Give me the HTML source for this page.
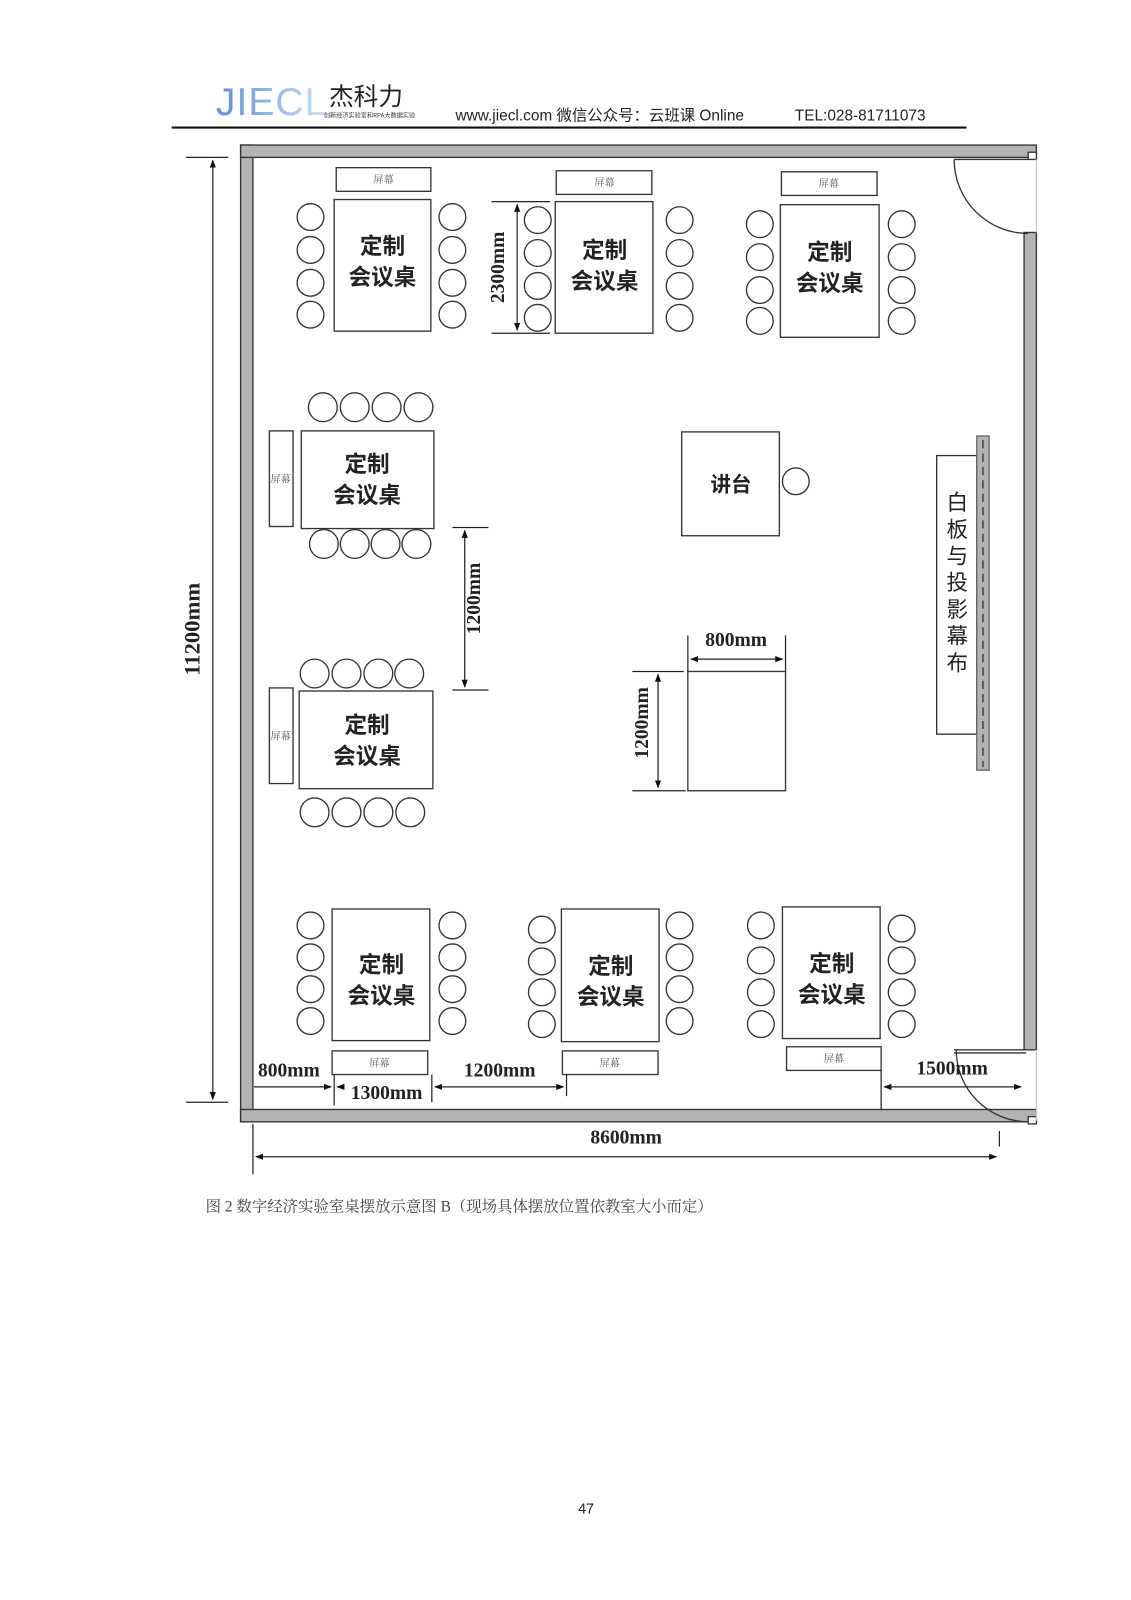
<!DOCTYPE html>
<html><head><meta charset="utf-8"><style>
html,body{margin:0;padding:0;background:#fff;}
svg{display:block;}
</style></head><body>
<svg width="1131" height="1600" viewBox="0 0 1100 1556" xmlns="http://www.w3.org/2000/svg">
<defs>
<linearGradient id="lg" x1="0" x2="1" y1="0" y2="0"><stop offset="0" stop-color="#5a8fd6"/><stop offset="1" stop-color="#cfe0f5"/></linearGradient>
<marker id="a" markerWidth="8" markerHeight="8" refX="7" refY="4" orient="auto-start-reverse" markerUnits="userSpaceOnUse"><path d="M0,1 L8,4 L0,7z" fill="#111"/></marker>
</defs>
<!-- header -->
<text x="210" y="112" font-family="Liberation Sans, sans-serif" font-size="38" fill="url(#lg)" letter-spacing="1">JIECL</text>
<text x="320" y="102" font-family="Liberation Sans, Noto Sans CJK SC, sans-serif" font-size="24" fill="#222">杰科力</text>
<text x="315" y="114" font-family="Noto Sans CJK SC, sans-serif" font-size="6" fill="#333">创新经济实验室和RPA大数据实验</text>
<text x="443" y="117" font-family="Liberation Sans, Noto Sans CJK SC, sans-serif" font-size="15" fill="#222">www.jiecl.com 微信公众号：云班课 Online</text>
<text x="773" y="117" font-family="Liberation Sans, sans-serif" font-size="15" fill="#222">TEL:028-81711073</text>
<line x1="167" y1="124" x2="940" y2="124" stroke="#111" stroke-width="2"/>

<g stroke="#333" stroke-width="1.3" fill="none">
<rect x="234" y="141" width="12" height="950" fill="#b3b3b3"/>
<rect x="234" y="141" width="774" height="12" fill="#b3b3b3"/>
<rect x="234" y="1079" width="774" height="12" fill="#b3b3b3"/>
<rect x="996" y="226" width="12" height="795" fill="#b3b3b3"/>
<rect x="1000" y="148" width="8" height="7" fill="#fff"/>
<rect x="1000" y="1086" width="8" height="7" fill="#fff"/>
<line x1="1008" y1="155" x2="1008" y2="226" stroke="#ccc"/>
<line x1="1008" y1="1021" x2="1008" y2="1090" stroke="#ccc"/>
<line x1="928" y1="155" x2="1000" y2="155"/>
<path d="M928,155 A72,72 0 0 0 1000,227"/>
<line x1="928" y1="1021" x2="998" y2="1021"/>
<line x1="928" y1="1024" x2="998" y2="1024"/>
<path d="M930,1021 A70,70 0 0 0 1000,1091"/>
</g>

<g font-family="Liberation Serif, Noto Serif CJK SC, serif" fill="#222" text-anchor="middle">
<g stroke="#333" stroke-width="1.3" fill="#fff">
<rect x="327" y="163" width="92" height="23"/><rect x="325" y="194" width="94" height="128"/>
<rect x="541" y="166" width="93" height="23"/><rect x="540" y="196" width="95" height="128"/>
<rect x="760" y="167" width="93" height="23"/><rect x="759" y="199" width="96" height="129"/>
<rect x="262" y="419" width="23" height="93"/><rect x="293" y="419" width="129" height="95"/>
<rect x="262" y="669" width="23" height="93"/><rect x="291" y="672" width="130" height="95"/>
<rect x="663" y="420" width="95" height="101"/>
<rect x="669" y="653" width="95" height="116"/>
<rect x="911" y="443" width="39" height="271"/>
<rect x="950" y="424" width="12" height="325" fill="#b3b3b3" stroke="#666"/>
<rect x="323" y="884" width="95" height="128"/><rect x="323" y="1022" width="93" height="23"/>
<rect x="546" y="884" width="95" height="129"/><rect x="547" y="1022" width="93" height="23"/>
<rect x="761" y="882" width="95" height="128"/><rect x="765" y="1018" width="92" height="23"/>
</g>
<line x1="956" y1="428" x2="956" y2="746" stroke="#444" stroke-width="1.5" stroke-dasharray="8,5"/>

<g stroke="#333" stroke-width="1.3" fill="#fff">
<circle cx="302" cy="211" r="13"/><circle cx="302" cy="243" r="13"/><circle cx="302" cy="275" r="13"/><circle cx="302" cy="306" r="13"/>
<circle cx="440" cy="211" r="13"/><circle cx="440" cy="243" r="13"/><circle cx="440" cy="275" r="13"/><circle cx="440" cy="306" r="13"/>
<circle cx="523" cy="214" r="13"/><circle cx="523" cy="246" r="13"/><circle cx="523" cy="278" r="13"/><circle cx="523" cy="309" r="13"/>
<circle cx="661" cy="214" r="13"/><circle cx="661" cy="246" r="13"/><circle cx="661" cy="278" r="13"/><circle cx="661" cy="309" r="13"/>
<circle cx="739" cy="218" r="13"/><circle cx="739" cy="250" r="13"/><circle cx="739" cy="282" r="13"/><circle cx="739" cy="312" r="13"/>
<circle cx="877" cy="218" r="13"/><circle cx="877" cy="250" r="13"/><circle cx="877" cy="282" r="13"/><circle cx="877" cy="312" r="13"/>
<circle cx="314" cy="396" r="14"/><circle cx="345" cy="396" r="14"/><circle cx="376" cy="396" r="14"/><circle cx="407" cy="396" r="14"/>
<circle cx="315" cy="529" r="14"/><circle cx="345" cy="529" r="14"/><circle cx="375" cy="529" r="14"/><circle cx="405" cy="529" r="14"/>
<circle cx="306" cy="655" r="14"/><circle cx="337" cy="655" r="14"/><circle cx="368" cy="655" r="14"/><circle cx="398" cy="655" r="14"/>
<circle cx="306" cy="790" r="14"/><circle cx="337" cy="790" r="14"/><circle cx="368" cy="790" r="14"/><circle cx="399" cy="790" r="14"/>
<circle cx="774" cy="468" r="13"/>
<circle cx="302" cy="900" r="13"/><circle cx="302" cy="931" r="13"/><circle cx="302" cy="962" r="13"/><circle cx="302" cy="993" r="13"/>
<circle cx="440" cy="900" r="13"/><circle cx="440" cy="931" r="13"/><circle cx="440" cy="962" r="13"/><circle cx="440" cy="993" r="13"/>
<circle cx="527" cy="904" r="13"/><circle cx="527" cy="935" r="13"/><circle cx="527" cy="965" r="13"/><circle cx="527" cy="996" r="13"/>
<circle cx="661" cy="900" r="13"/><circle cx="661" cy="931" r="13"/><circle cx="661" cy="962" r="13"/><circle cx="661" cy="993" r="13"/>
<circle cx="740" cy="900" r="13"/><circle cx="740" cy="934" r="13"/><circle cx="740" cy="965" r="13"/><circle cx="740" cy="996" r="13"/>
<circle cx="877" cy="903" r="13"/><circle cx="877" cy="934" r="13"/><circle cx="877" cy="965" r="13"/><circle cx="877" cy="996" r="13"/>
</g>

<g font-family="Liberation Sans, Noto Sans CJK SC, sans-serif" font-size="22" font-weight="bold">
<text x="372" y="247">定制</text><text x="372" y="277">会议桌</text>
<text x="588" y="251">定制</text><text x="588" y="281">会议桌</text>
<text x="807" y="253">定制</text><text x="807" y="283">会议桌</text>
<text x="357" y="459">定制</text><text x="357" y="489">会议桌</text>
<text x="357" y="713">定制</text><text x="357" y="743">会议桌</text>
<text x="371" y="946">定制</text><text x="371" y="976">会议桌</text>
<text x="594" y="947">定制</text><text x="594" y="977">会议桌</text>
<text x="809" y="945">定制</text><text x="809" y="975">会议桌</text>
<text x="711" y="478" font-size="20">讲台</text>
</g>
<g font-family="Noto Serif CJK SC, serif" font-size="10" fill="#555">
<text x="373" y="178">屏幕</text><text x="588" y="181">屏幕</text><text x="806" y="182">屏幕</text>
<text x="369" y="1037">屏幕</text><text x="593" y="1037">屏幕</text><text x="811" y="1033">屏幕</text>
<text x="273" y="469">屏幕</text><text x="273" y="719">屏幕</text>
</g>
<g font-family="Liberation Sans, Noto Sans CJK SC, sans-serif" font-size="21" fill="#222">
<text x="931" y="496">白</text><text x="931" y="522">板</text><text x="931" y="548">与</text><text x="931" y="574">投</text><text x="931" y="600">影</text><text x="931" y="626">幕</text><text x="931" y="652">布</text>
</g>

<g stroke="#222" stroke-width="1.2" fill="none">
<line x1="181" y1="153" x2="222" y2="153"/><line x1="181" y1="1072" x2="222" y2="1072"/>
<line x1="207" y1="156" x2="207" y2="1069" marker-start="url(#a)" marker-end="url(#a)"/>
<line x1="478" y1="196" x2="535" y2="196"/><line x1="478" y1="324" x2="535" y2="324"/>
<line x1="503" y1="199" x2="503" y2="321" marker-start="url(#a)" marker-end="url(#a)"/>
<line x1="440" y1="513" x2="475" y2="513"/><line x1="440" y1="671" x2="475" y2="671"/>
<line x1="452" y1="516" x2="452" y2="668" marker-start="url(#a)" marker-end="url(#a)"/>
<line x1="669" y1="618" x2="669" y2="653"/><line x1="764" y1="618" x2="764" y2="653"/>
<line x1="672" y1="641" x2="761" y2="641" marker-start="url(#a)" marker-end="url(#a)"/>
<line x1="615" y1="653" x2="665" y2="653"/><line x1="615" y1="769" x2="667" y2="769"/>
<line x1="640" y1="656" x2="640" y2="766" marker-start="url(#a)" marker-end="url(#a)"/>
<line x1="325" y1="1045" x2="325" y2="1075"/><line x1="420" y1="1045" x2="420" y2="1072"/>
<line x1="551" y1="1045" x2="551" y2="1066"/><line x1="857" y1="1041" x2="857" y2="1079"/>
<line x1="247" y1="1057" x2="322" y2="1057" marker-end="url(#a)"/>
<line x1="328" y1="1057" x2="334" y2="1057" marker-start="url(#a)"/>
<line x1="423" y1="1057" x2="548" y2="1057" marker-start="url(#a)" marker-end="url(#a)"/>
<line x1="860" y1="1057" x2="993" y2="1057" marker-start="url(#a)" marker-end="url(#a)"/>
<line x1="246" y1="1093" x2="246" y2="1142"/><line x1="972" y1="1100" x2="972" y2="1115"/>
<line x1="249" y1="1125" x2="969" y2="1125" marker-start="url(#a)" marker-end="url(#a)"/>
</g>
<g font-family="Liberation Serif, serif" font-weight="bold" font-size="19" fill="#222">
<text transform="translate(194,612) rotate(-90)" font-size="22">11200mm</text>
<text transform="translate(490,260) rotate(-90)">2300mm</text>
<text transform="translate(467,582) rotate(-90)">1200mm</text>
<text transform="translate(630,703) rotate(-90)">1200mm</text>
<text x="716" y="628">800mm</text>
<text x="281" y="1047">800mm</text>
<text x="376" y="1069">1300mm</text>
<text x="486" y="1047">1200mm</text>
<text x="926" y="1045">1500mm</text>
<text x="609" y="1112">8600mm</text>
</g>
</g>

<text x="200" y="1178" font-family="Liberation Serif, Noto Serif CJK SC, serif" font-size="15" fill="#444">图 2  数字经济实验室桌摆放示意图 B（现场具体摆放位置依教室大小而定）</text>
<text x="570" y="1472" text-anchor="middle" font-family="Liberation Sans, sans-serif" font-size="14" fill="#222">47</text>
</svg>
</body></html>
